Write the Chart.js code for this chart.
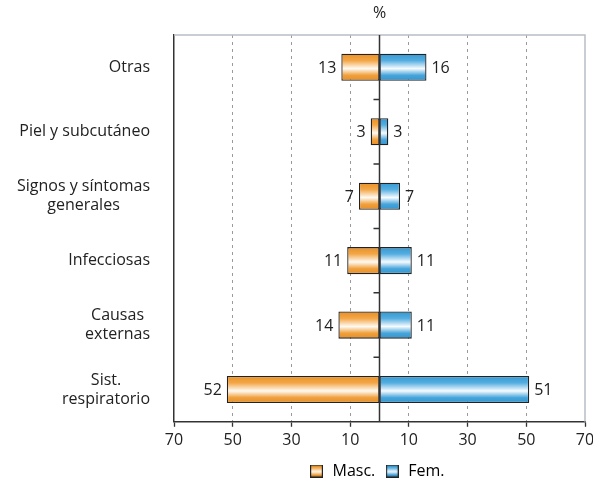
<!DOCTYPE html>
<html lang="es">
<head>
<meta charset="UTF-8">
<title>Causas por sexo</title>
<script src="https://cdn.jsdelivr.net/npm/chart.js"></script>
<style>
    html, body { margin: 0; padding: 0; background: #fff; }
    #wrap { width: 593px; height: 485px; }
</style>
</head>
<body>
<div id="wrap"><canvas id="causasChart"></canvas></div>
<script>
// datos
const categorias = [['Otras'], ['Piel y subcutáneo'], ['Signos y síntomas', 'generales'], ['Infecciosas'], ['Causas', 'externas'], ['Sist.', 'respiratorio']];
const masc = [13, 3, 7, 11, 14, 52];
const fem = [16, 3, 7, 11, 11, 51];
const ticksX = [-70, -50, -30, -10, 10, 30, 50, 70];
const series = ['Masc.', 'Fem.'];

const FONT = '"Open Sans", sans-serif';
const naranja = ['#ea8f24', '#f3a646', '#fffaf2', '#f0a03c', '#e88d24'];
const azul = ['#3398d3', '#54ade0', '#f6fbff', '#46a4db', '#3296d0'];
const paradas = [0, 0.25, 0.55, 0.8, 1];

// degradado vertical por barra
function degradado(ctx, col) {
    const chart = ctx.chart;
    const y = chart.scales.y;
    if (!y || !chart.chartArea) return col[0];
    const c = y.getPixelForValue(ctx.dataIndex);
    const h = 13.5;
    const g = chart.ctx.createLinearGradient(0, c - h, 0, c + h);
    paradas.forEach((p, i) => g.addColorStop(p, col[i]));
    return g;
}

function icono(col) {
    const cv = document.createElement('canvas');
    cv.width = 13; cv.height = 13;
    const c = cv.getContext('2d');
    const g = c.createLinearGradient(0, 0, 0, 13);
    paradas.forEach((p, i) => g.addColorStop(p, col[i]));
    c.fillStyle = g;
    c.fillRect(0, 0, 13, 13);
    c.strokeStyle = '#222';
    c.lineWidth = 1.2;
    c.strokeRect(0.6, 0.6, 11.8, 11.8);
    return cv;
}

const extras = {
    id: 'extras',
    afterDatasetsDraw(chart) {
        const { ctx, chartArea: a, scales: { x, y } } = chart;
        const x0 = x.getPixelForValue(0);
        ctx.save();
        // marco claro arriba y derecha
        ctx.strokeStyle = '#b7bec6';
        ctx.lineWidth = 1.5;
        ctx.beginPath();
        ctx.moveTo(a.left, a.top);
        ctx.lineTo(a.right, a.top);
        ctx.lineTo(a.right, a.bottom);
        ctx.stroke();
        // eje central con marcas
        ctx.strokeStyle = '#333';
        ctx.lineWidth = 1.5;
        ctx.beginPath();
        ctx.moveTo(x0, a.top);
        ctx.lineTo(x0, a.bottom);
        for (let i = 0; i < categorias.length - 1; i++) {
            const yb = (y.getPixelForValue(i) + y.getPixelForValue(i + 1)) / 2;
            ctx.moveTo(x0 - 6, yb);
            ctx.lineTo(x0, yb);
        }
        ctx.stroke();

        // valores
        ctx.fillStyle = '#222';
        ctx.font = '16px ' + FONT;
        ctx.textBaseline = 'middle';
        chart.getDatasetMeta(0).data.forEach((bar, i) => {
            ctx.textAlign = 'right';
            ctx.fillText(masc[i], bar.x - 5, bar.y + 1);
        });
        chart.getDatasetMeta(1).data.forEach((bar, i) => {
            ctx.textAlign = 'left';
            ctx.fillText(fem[i], bar.x + 5, bar.y + 1);
        });

        // etiquetas de categoria, centradas por bloque
        ctx.textAlign = 'center';
        const derecha = a.left - 24;
        categorias.forEach((lineas, i) => {
            const w = Math.max(...lineas.map(t => ctx.measureText(t).width));
            const cx = derecha - w / 2;
            const cy = y.getPixelForValue(i);
            const lh = 19;
            lineas.forEach((t, k) => {
                ctx.fillText(t, cx, cy + (k - (lineas.length - 1) / 2) * lh);
            });
        });

        // unidad
        ctx.fillText('%', x0, 13);
        ctx.restore();
    }
};

new Chart(document.getElementById('causasChart'), {
    type: 'bar',
    data: {
        labels: categorias,
        datasets: [{
            label: series[0],
            data: masc.map(v => -v),
            backgroundColor: ctx => degradado(ctx, naranja),
            borderColor: '#222',
            borderWidth: 1.3,
            borderSkipped: false
        }, {
            label: series[1],
            data: fem,
            backgroundColor: ctx => degradado(ctx, azul),
            borderColor: '#222',
            borderWidth: 1.3,
            borderSkipped: false
        }]
    },
    options: {
        indexAxis: 'y',
        responsive: true,
        maintainAspectRatio: false,
        animation: false,
        categoryPercentage: 1,
        barPercentage: 0.42,
        layout: { padding: { left: 160, right: 0, top: 35, bottom: -4 } },
        scales: {
            x: {
                stacked: true,
                min: -70,
                max: 70,
                afterBuildTicks: s => { s.ticks = ticksX.map(v => ({ value: v })); },
                afterFit: s => { s.paddingRight = 8; },
                ticks: {
                    color: '#222',
                    font: { family: FONT, size: 16 },
                    padding: 4,
                    maxRotation: 0,
                    callback: v => Math.abs(v)
                },
                grid: {
                    color: c => (Math.abs(c.tick.value) === 70 ? 'rgba(0,0,0,0)' : '#9a9a9a'),
                    tickColor: '#333',
                    tickLength: 5,
                    tickWidth: 1.3
                },
                border: { color: '#333', width: 1.5, dash: [3, 4] }
            },
            y: {
                stacked: true,
                ticks: { display: false },
                grid: { display: false },
                border: { color: '#333', width: 1.5 },
                afterFit: s => { s.width = 14; }
            }
        },
        plugins: {
            legend: {
                position: 'bottom',
                labels: {
                    usePointStyle: true,
                    color: '#222',
                    font: { family: FONT, size: 16 },
                    padding: 9,
                    generateLabels: () => [
                        { text: series[0], pointStyle: icono(naranja), datasetIndex: 0, lineWidth: 0 },
                        { text: series[1], pointStyle: icono(azul), datasetIndex: 1, lineWidth: 0 }
                    ]
                }
            },
            tooltip: { enabled: false }
        }
    },
    plugins: [extras]
});
</script>
</body>
</html>
